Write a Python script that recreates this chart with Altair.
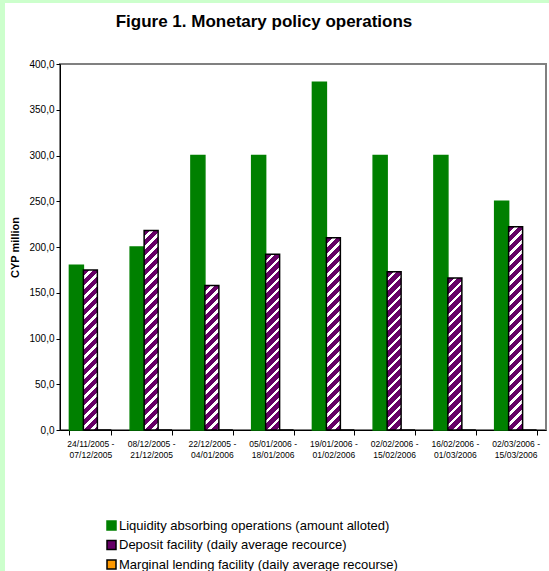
import math
import altair as alt
import pandas as pd

# ---------------- data ----------------
periods = [
    "24/11/2005 - 07/12/2005",
    "08/12/2005 - 21/12/2005",
    "22/12/2005 - 04/01/2006",
    "05/01/2006 - 18/01/2006",
    "19/01/2006 - 01/02/2006",
    "02/02/2006 - 15/02/2006",
    "16/02/2006 - 01/03/2006",
    "02/03/2006 - 15/03/2006",
]
liquidity = [180, 200, 300, 300, 380, 300, 300, 250]
deposit = [175, 218, 158, 192, 210, 173, 166, 222]
marginal = [0, 0, 0, 0, 0, 0, 0, 0]
series_names = [
    "Liquidity absorbing operations (amount alloted)",
    "Deposit facility (daily average recource)",
    "Marginal lending facility (daily average recourse)",
]
y_ticks = [0, 50, 100, 150, 200, 250, 300, 350, 400]

# ---------------- style ----------------
GREEN, PURPLE, ORANGE = "#008000", "#660066", "#FF9900"
W, H = 486, 366
P_IN = 0.31
FONT = "Liberation Sans"

rows = []
for vals, name in zip([liquidity, deposit, marginal], series_names):
    for p, v in zip(periods, vals):
        rows.append({"period": p, "series": name, "value": v})
df = pd.DataFrame(rows)

x_enc = alt.X(
    "period:N",
    sort=periods,
    scale=alt.Scale(domain=periods, paddingInner=P_IN, paddingOuter=P_IN / 2),
    axis=alt.Axis(
        title=None,
        labelAngle=0,
        tickBand="extent",
        labelExpr="datum.label ? [split(datum.label, ' - ')[0] + ' -', split(datum.label, ' - ')[1]] : ''",
        labelFontSize=8.5,
        labelLineHeight=11,
        labelPadding=4,
        tickSize=5,
        labelOverlap=False,
        domainColor="black",
        tickColor="black",
        labelColor="black",
    ),
)
xoff_enc = alt.XOffset("series:N", sort=series_names, scale=alt.Scale(domain=series_names))
y_enc = alt.Y(
    "value:Q",
    scale=alt.Scale(domain=[0, 400], nice=False),
    axis=alt.Axis(
        values=y_ticks,
        labelExpr="replace(format(datum.value, '.1f'), '.', ',')",
        title="CYP million",
        titleFontSize=11,
        titleFontWeight="bold",
        titleColor="black",
        titlePadding=8,
        labelFontSize=10,
        labelColor="black",
        tickSize=4,
        domainColor="black",
        tickColor="black",
        grid=False,
    ),
)

base = alt.Chart(df).encode(x=x_enc, xOffset=xoff_enc, y=y_enc)

legend_cfg = dict(
    title=None,
    orient="none",
    legendX=45,
    legendY=455,
    direction="vertical",
    symbolType="square",
    symbolSize=81,
    symbolStrokeWidth=1.5,
    labelFontSize=13,
    labelFont=FONT,
    labelColor="black",
    labelLimit=0,
    labelOffset=1,
    rowPadding=4.5,
    padding=0,
)

plain = base.transform_filter(
    alt.datum.series != series_names[1]
).mark_bar(strokeWidth=1.5).encode(
    color=alt.Color(
        "series:N",
        scale=alt.Scale(domain=series_names, range=[GREEN, PURPLE, ORANGE]),
        legend=alt.Legend(**legend_cfg),
    ),
    stroke=alt.Stroke(
        "series:N",
        scale=alt.Scale(domain=series_names, range=[GREEN, "black", "black"]),
        legend=alt.Legend(**legend_cfg),
    ),
)

# hatched deposit bars: diagonal stripes built as a hard-stop linear gradient
bar_w = W / 8 * (1 - P_IN) / 3
PERIOD = 10.0
WHITE_FRAC = 0.38
hatched = []
for p, v in zip(periods, deposit):
    h = v / 400 * H
    L = bar_w + h
    k = L / (bar_w ** 2 + h ** 2)
    stops = []
    n = int(math.ceil(L / PERIOD))
    for i in range(n):
        a = i * PERIOD / L
        b = min((i + 1 - WHITE_FRAC) * PERIOD / L, 1.0)
        c = min((i + 1) * PERIOD / L, 1.0)
        stops += [
            {"offset": min(a, 1.0), "color": PURPLE},
            {"offset": b, "color": PURPLE},
            {"offset": b, "color": "#FFFFFF"},
            {"offset": c, "color": "#FFFFFF"},
        ]
    grad = {
        "gradient": "linear",
        "x1": 0,
        "y1": 0,
        "x2": k * bar_w,
        "y2": k * h,
        "stops": stops,
    }
    hatched.append(
        base.transform_filter(
            (alt.datum.series == series_names[1]) & (alt.datum.period == p)
        ).mark_bar(fill=grad, stroke="black", strokeWidth=1.5)
    )

# light green page edge (decoration)
edge = pd.DataFrame({"d": [0]})
strip_left = alt.Chart(edge).mark_rect(color="#CCFFCC").encode(
    x=alt.value(-60), x2=alt.value(-55), y=alt.value(-64), y2=alt.value(507)
)
strip_top = alt.Chart(edge).mark_rect(color="#CCFFCC").encode(
    x=alt.value(-60), x2=alt.value(489), y=alt.value(-64), y2=alt.value(-61)
)

chart = alt.layer(strip_left, strip_top, plain, *hatched).properties(
    width=W,
    height=H,
    autosize=alt.AutoSizeParams(type="none"),
    padding={"left": 60, "top": 64, "right": 3, "bottom": 141},
    background="white",
    title=alt.Title(
        "Figure 1. Monetary policy operations",
        fontSize=17,
        fontWeight="bold",
        font=FONT,
        color="black",
        anchor="middle",
        baseline="alphabetic",
        dx=-39,
        offset=-44,
    ),
).configure(font=FONT).configure_view(stroke="#808080", strokeWidth=2)

chart.save("out.html", embed_options={"renderer": "svg", "actions": False})
